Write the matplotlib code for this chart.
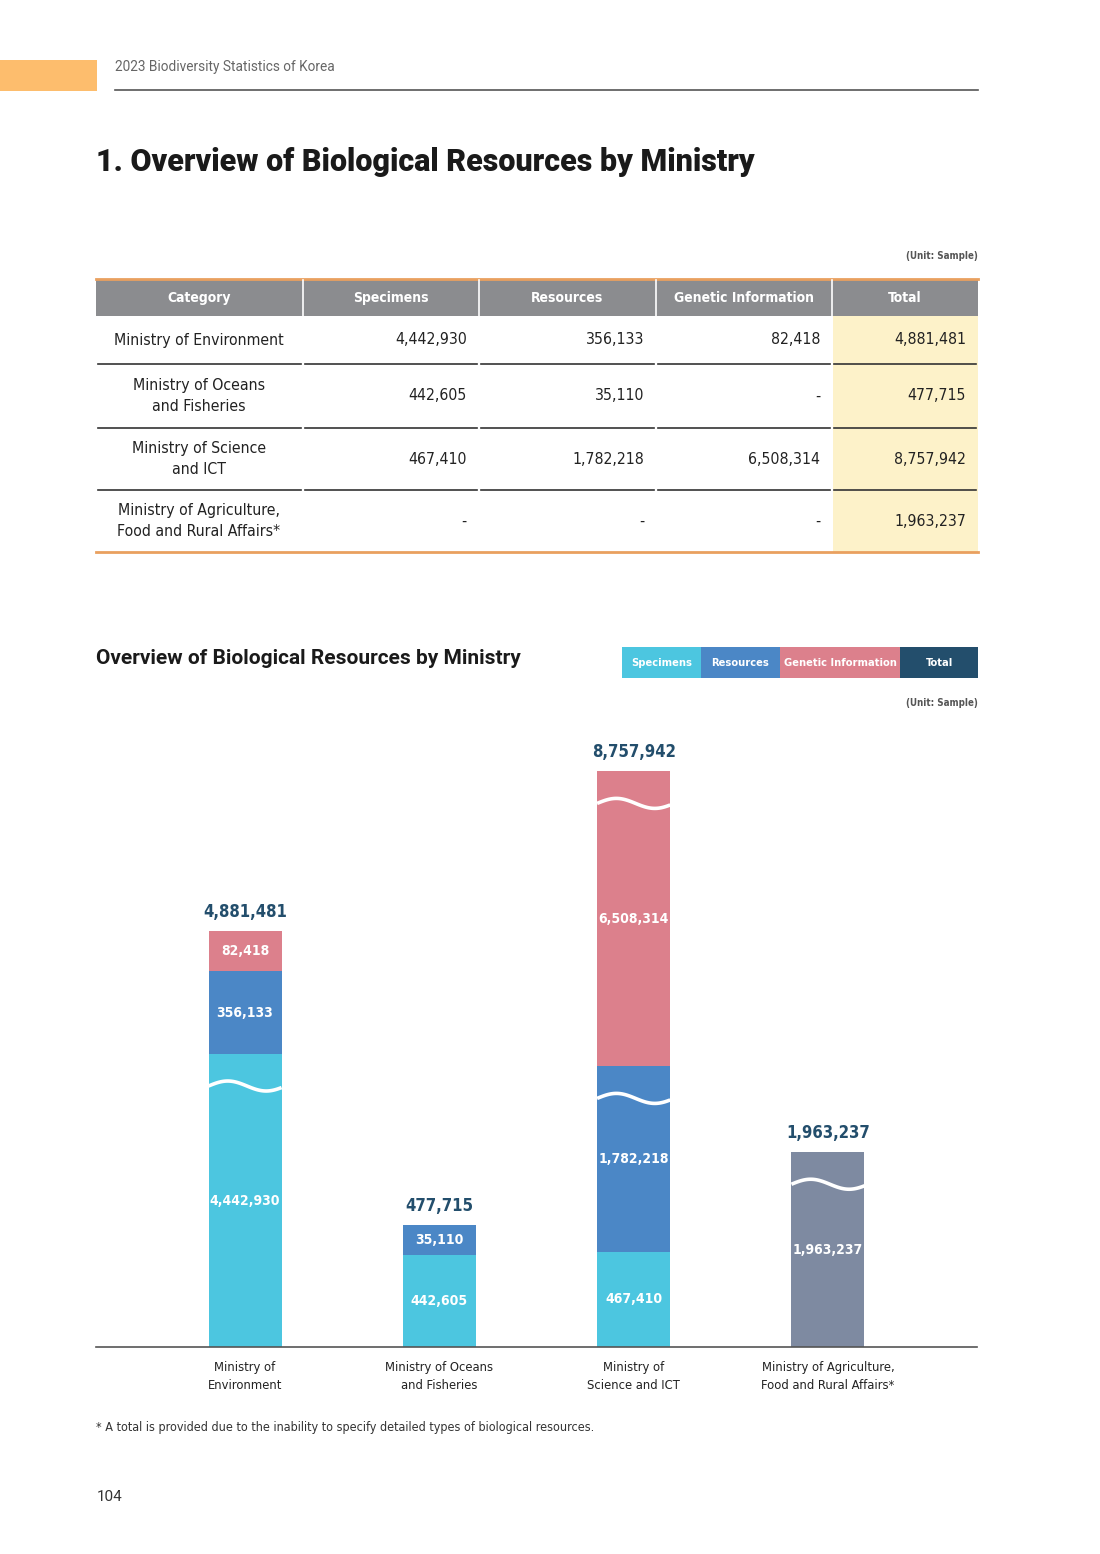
import numpy as np
import matplotlib.pyplot as plt
from matplotlib.patches import Rectangle

# table / chart data
categories = ["Ministry of Environment", "Ministry of Oceans\nand Fisheries",
              "Ministry of Science\nand ICT", "Ministry of Agriculture,\nFood and Rural Affairs*"]
bar_labels = ["Ministry of\nEnvironment", "Ministry of Oceans\nand Fisheries",
              "Ministry of\nScience and ICT", "Ministry of Agriculture,\nFood and Rural Affairs*"]
columns = ["Category", "Specimens", "Resources", "Genetic Information", "Total"]
specimens = [4442930, 442605, 467410, None]
resources = [356133, 35110, 1782218, None]
genetic = [82418, None, 6508314, None]
totals = [4881481, 477715, 8757942, 1963237]

C_SPEC = "#4cc6e0"
C_RES = "#4b87c6"
C_GEN = "#dc808c"
C_TOT = "#234e6c"
C_AGRI = "#7e8aa1"
C_HEAD = "#8b8c8f"
C_ORANGE = "#e9a05f"
C_YELLOW = "#fdf2c9"

COND = dict(family="DejaVu Sans", fontstretch="condensed")

W, H = 1100, 1554
fig = plt.figure(figsize=(11, 15.54), dpi=100)
page = fig.add_axes([0, 0, 1, 1])
page.set_xlim(0, W)
page.set_ylim(H, 0)
page.axis("off")

# page header
page.add_patch(Rectangle((0, 60), 97, 31, color="#fdbd6d", lw=0))
page.text(115, 67, "2023 Biodiversity Statistics of Korea", fontsize=9.8, color="#666666",
          va="center", family="Roboto")
page.plot([115, 978], [90, 90], color="#555555", lw=1.2)
page.text(96, 162, "1. Overview of Biological Resources by Ministry", fontsize=22,
          fontweight="heavy", va="center", color="#1a1a1a", family="Roboto")

# table
page.text(978, 256, "(Unit: Sample)", fontsize=7, fontweight="bold", color="#555555",
          ha="right", va="center", **COND)
col_edges = [96, 303, 479, 656, 832, 978]
row_edges = [316, 364, 428, 490, 552]
page.add_patch(Rectangle((96, 280), 882, 36, color=C_HEAD, lw=0))
page.add_patch(Rectangle((833, 316), 145, 236, color=C_YELLOW, lw=0))
page.plot([96, 978], [279, 279], color=C_ORANGE, lw=2)
page.plot([96, 978], [552, 552], color=C_ORANGE, lw=2)
for x in col_edges[1:-1]:
    page.plot([x, x], [280, 316], color="white", lw=1.2)
for j, name in enumerate(columns):
    cx = (col_edges[j] + col_edges[j + 1]) / 2
    page.text(cx, 298, name, fontsize=10, fontweight="bold", color="white",
              ha="center", va="center", **COND)
for y in row_edges[1:-1]:
    for j in range(5):
        page.plot([col_edges[j] + 2, col_edges[j + 1] - 2], [y, y], color="#333333", lw=1.2)

fmt = lambda v: "-" if v is None else f"{v:,}"
for i, cat in enumerate(categories):
    cy = (row_edges[i] + row_edges[i + 1]) / 2
    page.text(199, cy, cat, fontsize=11.3, ha="center", va="center", color="#222222",
              linespacing=1.55, **COND)
    for j, vals in enumerate([specimens, resources, genetic, totals]):
        page.text(col_edges[j + 2] - 12, cy, fmt(vals[i]), fontsize=11.3, ha="right",
                  va="center", color="#222222", **COND)

# chart heading and legend
page.text(96, 659, "Overview of Biological Resources by Ministry", fontsize=15,
          fontweight="bold", va="center", color="#1a1a1a", family="Roboto")
legend = [("Specimens", C_SPEC, 622, 701), ("Resources", C_RES, 701, 780),
          ("Genetic Information", C_GEN, 780, 900), ("Total", C_TOT, 900, 978)]
for name, col, x0, x1 in legend:
    page.add_patch(Rectangle((x0, 647), x1 - x0, 31, color=col, lw=0))
    page.text((x0 + x1) / 2, 663, name, fontsize=8, fontweight="bold", color="white",
              ha="center", va="center", **COND)
page.text(978, 703, "(Unit: Sample)", fontsize=7, fontweight="bold", color="#555555",
          ha="right", va="center", **COND)

# stacked bars, lengths on a compressed (square-root) scale with breaks for big values
ax = fig.add_axes([96 / W, (H - 1347) / H, 881 / W, 607 / H])
ax.set_xlim(-0.767, 3.767)
ax.set_ylim(0, 607)
ax.axis("off")
ax.plot([-0.767, 3.767], [0, 0], color="#555555", lw=1.2, clip_on=False)

K, MIN_LEN, CAP, BREAK_AT = 0.139, 30, 295, 1500000
bw = 0.376


def seg_len(v):
    return min(max(K * np.sqrt(v), MIN_LEN), CAP)


def wave(x, y):
    t = np.linspace(0, 1, 60)
    ax.plot(x - bw / 2 + bw * t, y + 5 * np.sin(2 * np.pi * t * 0.95), color="white",
            lw=2.6, solid_capstyle="butt")


for i in range(len(totals)):
    parts = [(specimens[i], C_SPEC), (resources[i], C_RES), (genetic[i], C_GEN)]
    parts = [(v, c) for v, c in parts if v is not None]
    if not parts:
        parts = [(totals[i], C_AGRI)]
    bottom = 0
    for v, c in parts:
        L = seg_len(v)
        ax.bar(i, L, bottom=bottom, width=bw, color=c, lw=0)
        ax.text(i, bottom + L / 2, f"{v:,}", color="white", fontsize=10,
                fontweight="bold", ha="center", va="center", **COND)
        if v > BREAK_AT:
            wave(i, bottom + L - 32)
        bottom += L
    ax.text(i, bottom + 10, f"{totals[i]:,}", color=C_TOT, fontsize=12,
            fontweight="bold", ha="center", va="bottom", **COND)
    ax.text(i, -14, bar_labels[i], fontsize=9.3, ha="center", va="top", color="#222222",
            linespacing=1.5, **COND)

page.text(96, 1427, "* A total is provided due to the inability to specify detailed types of biological resources.",
          fontsize=9, va="center", color="#333333", **COND)
page.text(97, 1497, "104", fontsize=11, va="center", color="#333333", family="Roboto")

fig.savefig("out.png", dpi=100)
